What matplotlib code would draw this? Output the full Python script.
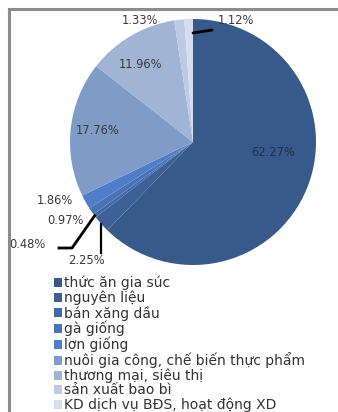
import numpy as np
import matplotlib
matplotlib.use("Agg")
import matplotlib.pyplot as plt
from matplotlib.lines import Line2D

plt.rcParams['font.family'] = ['DejaVu Sans']

# data
categories = ["thức ăn gia súc", "nguyên liệu", "bán xăng dầu", "gà giống", "lợn giống",
              "nuôi gia công, chế biến thực phẩm", "thương mại, siêu thị",
              "sản xuất bao bì", "KD dịch vụ BĐS, hoạt động XD"]
shares = [62.27, 2.25, 0.48, 0.97, 1.86, 17.76, 11.96, 1.33, 1.12]
colors = ["#375a8b", "#3d6097", "#4368a3", "#4973b6", "#4f7dc8",
          "#7f9cc8", "#a0b5d6", "#bdcae2", "#d5ddee"]

W, H = 338, 412
fig = plt.figure(figsize=(W / 100, H / 100), dpi=100)

# pie centre (193,142) px, radius 123 px
cx, cy, R = 193, 142, 123
ax = fig.add_axes([(cx - R) / W, (H - cy - R) / H, 2 * R / W, 2 * R / H])
wedges, _ = ax.pie(shares, colors=colors, startangle=90, counterclock=False,
                   radius=1, wedgeprops=dict(linewidth=0))
ax.set_xlim(-1, 1)
ax.set_ylim(-1, 1)
ax.set_aspect('auto')
ax.axis('off')

def px(x, y):
    return (x - cx) / R, (cy - y) / R

# label positions (pixels) for each slice
label_pos = [(273, 153), (86, 260), (27, 245), (65, 221), (55, 200),
             (98, 131), (141, 64), (140, 21), (236, 21)]
for i, (v, (lx, ly)) in enumerate(zip(shares, label_pos)):
    c = "#1e2f4d" if i == 0 else "#3a3a3a"
    x, y = px(lx, ly)
    ax.text(x, y, f"{v:.2f}%", fontsize=8.3, color=c, ha='center', va='center', clip_on=False)

# leader lines
ang = 90 - np.cumsum([0] + shares[:-1]) * 3.6 - np.array(shares) * 1.8
def edge(i, r=1.0):
    a = np.radians(ang[i])
    return r * np.cos(a), r * np.sin(a)

x0, y0 = edge(1)
x1, y1 = px(100, 253)
ax.plot([x0, x0], [y0, y1], color='black', lw=1.6, clip_on=False)
x0, y0 = edge(2)
xa, ya = px(72, 248)
xb, yb = px(59, 248)
ax.plot([x0, xa, xb], [y0, ya, yb], color='black', lw=2, clip_on=False)
x0, y0 = px(193, 33)
xa, ya = px(212, 30)
ax.plot([x0, xa], [y0, ya], color='black', lw=2, clip_on=False, solid_capstyle='round')

# legend
fig.legend(wedges, categories, loc='upper left', bbox_to_anchor=(54 / W, 1 - 276 / H),
           frameon=False, fontsize=10, handlelength=0.6, handleheight=0.6,
           handletextpad=0.1, labelspacing=0.02, borderpad=0, borderaxespad=0,
           labelcolor="#333333")

# chart frame (left and top edges only visible)
fig.lines.append(Line2D([9 / W, 9 / W], [0, 1 - 9 / H], transform=fig.transFigure,
                        color="#8c8c8c", lw=2.2))
fig.lines.append(Line2D([9 / W, 1], [1 - 9 / H, 1 - 9 / H], transform=fig.transFigure,
                        color="#8c8c8c", lw=2.2))

fig.savefig("out.png", dpi=100)
